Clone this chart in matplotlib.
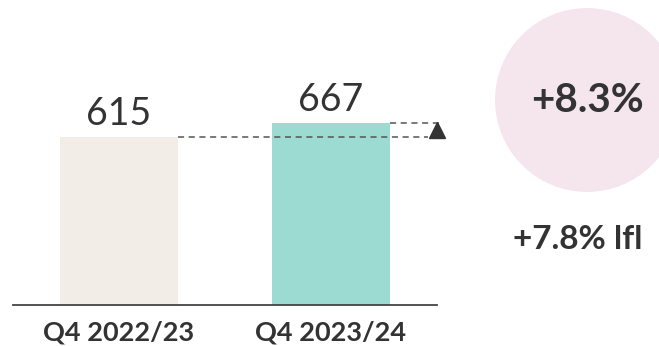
import matplotlib
matplotlib.use("Agg")
import matplotlib.pyplot as plt
from matplotlib.patches import Circle

categories = ["Q4 2022/23", "Q4 2023/24"]
values = [615, 667]
bar_colors = ["#f2ede6", "#9cdbd1"]
growth_label = "+8.3%"
lfl_label = "+7.8% lfl"

plt.rcParams['font.family'] = ['Lato', 'DejaVu Sans']
text_color = "#333333"

fig = plt.figure(figsize=(6.59, 3.46), dpi=100)
ax = fig.add_axes([0, 0, 1, 1])
ax.set_xlim(-0.561, 2.547)
ax.set_ylim(-150.1, 1116.6)
ax.axis('off')

x = list(range(len(categories)))
bw = 0.557
ax.bar(x, values, width=bw, color=bar_colors, zorder=2)

# baseline
ax.plot([-0.5, 1.5], [0, 0], color="#444444", lw=1.3, zorder=3)

# value labels
for xi, v in zip(x, values):
    ax.annotate(str(v), (xi, v), xytext=(0, 8.5), textcoords='offset points',
                ha='center', va='baseline', fontsize=27, color=text_color)

# category labels
for xi, c in zip(x, categories):
    ax.annotate(c, (xi, 0), xytext=(0, -25.5), textcoords='offset points',
                ha='center', va='baseline', fontsize=19.5, fontweight='bold',
                color=text_color)

# dashed comparison lines
ax.plot([x[0] + bw / 2, 1.458], [values[0], values[0]], ls=(0, (4, 3)),
        color="#555555", lw=1.1, zorder=3)
ax.plot([x[1] + bw / 2, 1.524], [values[1], values[1]], ls=(0, (4, 3)),
        color="#555555", lw=1.1, zorder=3)
ax.plot([1.5], [(values[0] + values[1]) / 2], marker='^', markersize=12,
        color="#333333", zorder=4)

# circle
circ = Circle((5.87, 2.46), 0.92, transform=fig.dpi_scale_trans,
              facecolor="#f5e6ee", edgecolor='none', zorder=1)
ax.add_patch(circ)

ax.text(2.208, 750, growth_label, ha='center', va='center', fontsize=29,
        fontweight='bold', color=text_color, zorder=5)
ax.text(2.165, 238, lfl_label, ha='center', va='center', fontsize=24,
        fontweight='bold', color=text_color, zorder=5)

fig.savefig("out.png", dpi=100)
